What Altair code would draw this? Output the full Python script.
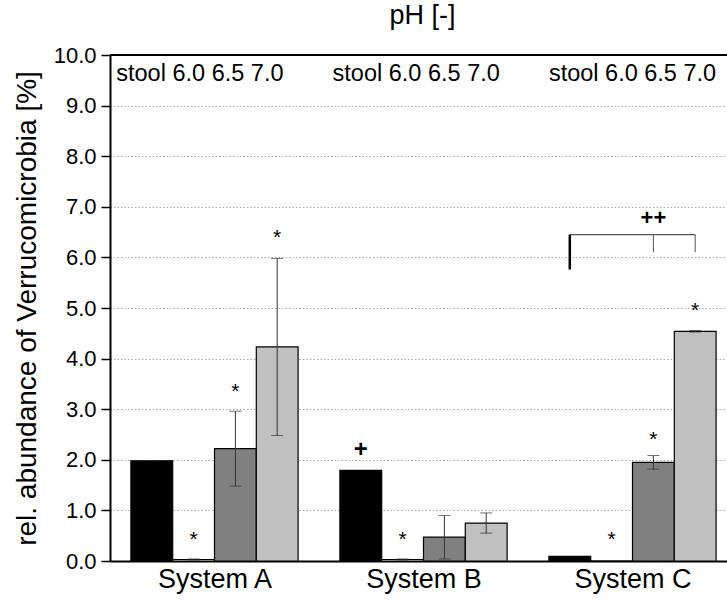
import altair as alt
import pandas as pd

# ---------------- data ----------------
systems = ["System A", "System B", "System C"]
ph_levels = ["stool", "6.0", "6.5", "7.0"]
ph_colors = ["#000000", "#ffffff", "#808080", "#c0c0c0"]

mean_a = [1.98, 0.03, 2.22, 4.23]
mean_b = [1.79, 0.03, 0.47, 0.75]
mean_c = [0.09, 0.0, 1.95, 4.54]
sd_a = [0.0, 0.01, 0.74, 1.75]
sd_b = [0.0, 0.01, 0.43, 0.20]
sd_c = [0.0, 0.0, 0.135, 0.015]

sig_system = ["System A", "System A", "System A", "System B", "System C", "System C", "System C"]
sig_ph = ["6.0", "6.5", "7.0", "6.0", "6.0", "6.5", "7.0"]
sig_y = [0.52, 3.43, 6.49, 0.51, 0.52, 2.50, 5.04]

plus_system = ["System B"]
plus_ph = ["stool"]
plus_y = [2.19]

header_text = "stool 6.0 6.5 7.0"
header_x = [0.43, 1.465, 2.50]
header_y = 9.62

bracket_system = "System C"
bracket_ph = ["stool", "6.5", "7.0"]
bracket_top = 6.45
bracket_left_bottom = 5.76
bracket_leg_bottom = 6.10
bracket_label = "++"
bracket_label_y = 6.77

# ---------------- layout constants ----------------
FONT = "Liberation Sans"
BAR = 0.2  # bar width in group units
W, H = 617, 506
X_MAX = W / 209.0


def center(system, ph):
    return systems.index(system) + 0.5 + (ph_levels.index(ph) - 1.5) * BAR


rows = []
for s, means, sds in zip(systems, [mean_a, mean_b, mean_c], [sd_a, sd_b, sd_c]):
    for p, m, e in zip(ph_levels, means, sds):
        c = center(s, p)
        rows.append(dict(system=s, ph=p, mean=m, sd=e, xc=c,
                         x0=c - BAR / 2, x1=c + BAR / 2, lo=m - e, hi=m + e))
df = pd.DataFrame(rows)
df_err = df[df.sd > 0]

df_sig = pd.DataFrame(dict(xc=[center(s, p) for s, p in zip(sig_system, sig_ph)],
                           y=sig_y, t=["*"] * len(sig_y)))
df_plus = pd.DataFrame(dict(xc=[center(s, p) for s, p in zip(plus_system, plus_ph)],
                            y=plus_y, t=["+"] * len(plus_y)))
df_head = pd.DataFrame(dict(xc=header_x, y=[header_y] * len(header_x),
                            t=[header_text] * len(header_x)))

bx = [center(bracket_system, p) for p in bracket_ph]
df_bh = pd.DataFrame(dict(x=[bx[0]], x2=[bx[-1]], y=[bracket_top]))
df_bl = pd.DataFrame(dict(x=[bx[0]], y=[bracket_left_bottom], y2=[bracket_top]))
df_bm = pd.DataFrame(dict(x=bx[1:], y=[bracket_leg_bottom] * 2, y2=[bracket_top] * 2))
df_bt = pd.DataFrame(dict(x=[bx[1]], y=[bracket_label_y], t=[bracket_label]))

xscale = alt.Scale(domain=[0, X_MAX], nice=False, zero=False)
yscale = alt.Scale(domain=[0, 10], nice=False, zero=True)

label_js = "[" + ",".join("'%s'" % s for s in systems) + "]"
xaxis = alt.Axis(values=[i + 0.5 for i in range(len(systems))],
                 labelExpr=label_js + "[floor(datum.value)]",
                 ticks=False, grid=False, title=None,
                 labelFont=FONT, labelFontSize=27, labelColor="black",
                 labelPadding=5, domainColor="black", domainWidth=2)

yvals = [i / 2 for i in range(21)]
yaxis = alt.Axis(values=yvals,
                 labelExpr="datum.value % 1 ? '' : format(datum.value, '.1f')",
                 title="rel. abundance of Verrucomicrobia [%]",
                 titleFont=FONT, titleFontSize=28, titleFontWeight="normal",
                 titleColor="black", titleX=-83, titleBaseline="middle",
                 labelFont=FONT, labelFontSize=22, labelColor="black", labelPadding=5,
                 tickColor="black", tickWidth=1.5,
                 tickSize={"condition": {"test": "datum.value % 1 != 0", "value": 5}, "value": 9},
                 grid=True, gridColor="#a8a8a8", gridDash=[1.5, 2], gridWidth=1,
                 gridOpacity={"condition": {"test": "datum.value % 1 != 0 || datum.value == 0 || datum.value == 10", "value": 0}, "value": 1},
                 domainColor="black", domainWidth=2)

bars = alt.Chart(df).mark_bar(stroke="black", strokeWidth=1.2).encode(
    x=alt.X("x0:Q", scale=xscale, axis=xaxis),
    x2="x1:Q",
    y=alt.Y("mean:Q", scale=yscale, axis=yaxis),
    y2=alt.datum(0),
    fill=alt.Fill("ph:N", scale=alt.Scale(domain=ph_levels, range=ph_colors), legend=None),
)

err_rule = alt.Chart(df_err).mark_rule(color="#333333", strokeWidth=1).encode(
    x="xc:Q", y="lo:Q", y2="hi:Q")
cap_hi = alt.Chart(df_err).mark_tick(orient="horizontal", size=12, thickness=1, color="#333333").encode(
    x="xc:Q", y="hi:Q")
cap_lo = alt.Chart(df_err).mark_tick(orient="horizontal", size=12, thickness=1, color="#333333").encode(
    x="xc:Q", y="lo:Q")

stars = alt.Chart(df_sig).mark_text(font=FONT, fontSize=21, baseline="middle", dy=5, color="black").encode(
    x="xc:Q", y="y:Q", text="t:N")
plus = alt.Chart(df_plus).mark_text(font=FONT, fontSize=24, fontWeight="bold", baseline="middle", dy=0, color="black").encode(
    x="xc:Q", y="y:Q", text="t:N")
head = alt.Chart(df_head).mark_text(font=FONT, fontSize=23.5, baseline="middle", color="black").encode(
    x="xc:Q", y="y:Q", text="t:N")

b_h = alt.Chart(df_bh).mark_rule(color="#555555", strokeWidth=1.3).encode(x="x:Q", x2="x2:Q", y="y:Q")
b_l = alt.Chart(df_bl).mark_rule(color="black", strokeWidth=2.5).encode(x="x:Q", y="y:Q", y2="y2:Q")
b_m = alt.Chart(df_bm).mark_rule(color="#555555", strokeWidth=1).encode(x="x:Q", y="y:Q", y2="y2:Q")
b_t = alt.Chart(df_bt).mark_text(font=FONT, fontSize=22, fontWeight="bold", baseline="middle", color="black").encode(
    x="x:Q", y="y:Q", text="t:N")

top = alt.Chart(pd.DataFrame(dict(y=[10]))).mark_rule(color="black", strokeWidth=2).encode(y="y:Q")

chart = alt.layer(bars, err_rule, cap_hi, cap_lo, stars, plus, head, b_h, b_l, b_m, b_t, top).properties(
    width=W, height=H,
    title=alt.TitleParams("pH [-]", font=FONT, fontSize=27, fontWeight="normal", color="black",
                          anchor="middle", offset=14, dx=4),
    autosize=alt.AutoSizeParams(type="none"),
    padding={"left": 110, "top": 55, "right": 0, "bottom": 40},
).configure_view(stroke=None).configure(background="white")

chart.save("out.html", embed_options={"renderer": "svg", "actions": False})
